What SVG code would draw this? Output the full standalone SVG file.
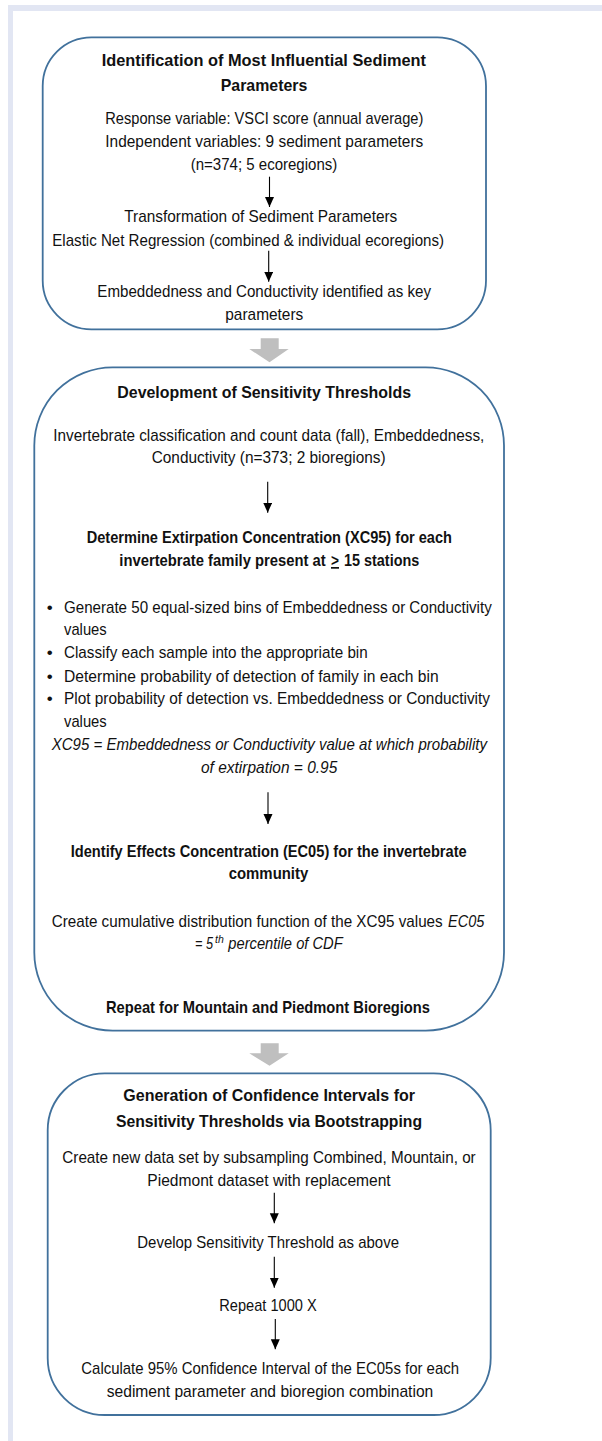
<svg xmlns="http://www.w3.org/2000/svg" width="602" height="1441" viewBox="0 0 602 1441">
<style>
.box{fill:#ffffff;stroke:#41719c;stroke-width:1.8}
.frame{fill:#e2e6f3}
text{font-family:"Liberation Sans",Arial,sans-serif;font-size:17px;fill:#111111}
.b{font-weight:bold}
.i{font-style:italic}
.sup{font-size:10.5px}
.ln{stroke:#000000;stroke-width:1.1;fill:none;marker-end:url(#ah)}
.blk{fill:#bfbfbf}
</style>
<defs>
<marker id="ah" markerUnits="userSpaceOnUse" markerWidth="10" markerHeight="10" refX="10" refY="4.5" orient="auto">
<path d="M0,0 L10,4.5 L0,9 z" fill="#000000"/>
</marker>
</defs>
<rect class="frame" x="8" y="5" width="594" height="6"/>
<rect class="frame" x="8" y="5" width="5" height="1436"/>

<g id="connectors">
<polygon class="blk" points="260.7,338.3 278.7,338.3 278.7,349 288.7,349 269.5,362.3 249.3,349 260.7,349"/>
<polygon class="blk" points="260.7,1043.3 278.7,1043.3 278.7,1053.3 288.7,1053.3 269.5,1065.7 249.3,1053.3 260.7,1053.3"/>
</g>

<g id="node-identification">
<rect class="box" x="42.7" y="37.3" width="443.3" height="292" rx="48.7" ry="48.7"/>
<text class="b" x="101.7" y="65.7" textLength="324.3" lengthAdjust="spacingAndGlyphs">Identification of Most Influential Sediment</text>
<text class="b" x="220.7" y="90.7" textLength="86.6" lengthAdjust="spacingAndGlyphs">Parameters</text>
<text x="105.3" y="124" textLength="318" lengthAdjust="spacingAndGlyphs">Response variable: VSCI score (annual average)</text>
<text x="105.3" y="147.3" textLength="318" lengthAdjust="spacingAndGlyphs">Independent variables: 9 sediment parameters</text>
<text x="190.7" y="170" textLength="146.6" lengthAdjust="spacingAndGlyphs">(n=374; 5 ecoregions)</text>
<line class="ln" x1="269.5" y1="176.7" x2="269.5" y2="207"/>
<text x="124.3" y="222.3" textLength="273" lengthAdjust="spacingAndGlyphs">Transformation of Sediment Parameters</text>
<text x="52.3" y="245.7" textLength="391.7" lengthAdjust="spacingAndGlyphs">Elastic Net Regression (combined &amp; individual ecoregions)</text>
<line class="ln" x1="268.7" y1="250.7" x2="268.7" y2="281.7"/>
<text x="97.3" y="297.3" textLength="333.7" lengthAdjust="spacingAndGlyphs">Embeddedness and Conductivity identified as key</text>
<text x="225.3" y="320" textLength="78" lengthAdjust="spacingAndGlyphs">parameters</text>
</g>

<g id="node-development">
<rect class="box" x="34.3" y="367.3" width="469.7" height="663.4" rx="78.3" ry="78.3"/>
<text class="b" x="117.3" y="398.3" textLength="293.7" lengthAdjust="spacingAndGlyphs">Development of Sensitivity Thresholds</text>
<text x="53.3" y="441" textLength="431" lengthAdjust="spacingAndGlyphs">Invertebrate classification and count data (fall), Embeddedness,</text>
<text x="151.7" y="463.3" textLength="234" lengthAdjust="spacingAndGlyphs">Conductivity (n=373; 2 bioregions)</text>
<line class="ln" x1="267.7" y1="481.7" x2="267.7" y2="512.7"/>
<text class="b" x="86.7" y="543.3" textLength="365.3" lengthAdjust="spacingAndGlyphs">Determine Extirpation Concentration (XC95) for each</text>
<text class="b" x="119.3" y="566" textLength="206.4" lengthAdjust="spacingAndGlyphs">invertebrate family present at</text>
<text class="b" x="331" y="566" textLength="8" lengthAdjust="spacingAndGlyphs" text-decoration="underline">&gt;</text>
<text class="b" x="344" y="566" textLength="75.3" lengthAdjust="spacingAndGlyphs">15 stations</text>
<text x="49.7" y="612.7" text-anchor="middle">•</text>
<text x="64" y="612.7" textLength="427.7" lengthAdjust="spacingAndGlyphs">Generate 50 equal-sized bins of Embeddedness or Conductivity</text>
<text x="64" y="635" textLength="42.7" lengthAdjust="spacingAndGlyphs">values</text>
<text x="49.7" y="658.3" text-anchor="middle">•</text>
<text x="64" y="658.3" textLength="303.7" lengthAdjust="spacingAndGlyphs">Classify each sample into the appropriate bin</text>
<text x="49.7" y="681.7" text-anchor="middle">•</text>
<text x="64" y="681.7" textLength="374.7" lengthAdjust="spacingAndGlyphs">Determine probability of detection of family in each bin</text>
<text x="49.7" y="704.3" text-anchor="middle">•</text>
<text x="64" y="704.3" textLength="426" lengthAdjust="spacingAndGlyphs">Plot probability of detection vs. Embeddedness or Conductivity</text>
<text x="64" y="727.3" textLength="42.7" lengthAdjust="spacingAndGlyphs">values</text>
<text class="i" x="51.7" y="750" textLength="435.3" lengthAdjust="spacingAndGlyphs">XC95 = Embeddedness or Conductivity value at which probability</text>
<text class="i" x="201" y="772.7" textLength="136.3" lengthAdjust="spacingAndGlyphs">of extirpation = 0.95</text>
<line class="ln" x1="268" y1="792.3" x2="268" y2="824"/>
<text class="b" x="70.7" y="856.7" textLength="396" lengthAdjust="spacingAndGlyphs">Identify Effects Concentration (EC05) for the invertebrate</text>
<text class="b" x="228.7" y="879.3" textLength="79.6" lengthAdjust="spacingAndGlyphs">community</text>
<text x="51.7" y="926.7" textLength="391" lengthAdjust="spacingAndGlyphs">Create cumulative distribution function of the XC95 values</text>
<text class="i" x="448" y="926.7" textLength="36.3" lengthAdjust="spacingAndGlyphs">EC05</text>
<text class="i" x="195" y="949.3" textLength="18" lengthAdjust="spacingAndGlyphs">= 5</text>
<text class="i sup" x="215" y="942.5">th</text>
<text class="i" x="228.3" y="949.3" textLength="114.4" lengthAdjust="spacingAndGlyphs">percentile of CDF</text>
<text class="b" x="106" y="1012.7" textLength="324" lengthAdjust="spacingAndGlyphs">Repeat for Mountain and Piedmont Bioregions</text>
</g>

<g id="node-confidence">
<rect class="box" x="47.7" y="1073.3" width="443" height="341.7" rx="57" ry="57"/>
<text class="b" x="123.3" y="1100.7" textLength="291.7" lengthAdjust="spacingAndGlyphs">Generation of Confidence Intervals for</text>
<text class="b" x="116" y="1126.7" textLength="306" lengthAdjust="spacingAndGlyphs">Sensitivity Thresholds via Bootstrapping</text>
<text x="62.3" y="1163.3" textLength="413.4" lengthAdjust="spacingAndGlyphs">Create new data set by subsampling Combined, Mountain, or</text>
<text x="147.3" y="1186" textLength="243.4" lengthAdjust="spacingAndGlyphs">Piedmont dataset with replacement</text>
<line class="ln" x1="274.3" y1="1192.7" x2="274.3" y2="1223.3"/>
<text x="137.3" y="1248.3" textLength="261.7" lengthAdjust="spacingAndGlyphs">Develop Sensitivity Threshold as above</text>
<line class="ln" x1="274.3" y1="1256.7" x2="274.3" y2="1287.7"/>
<text x="219.3" y="1310.7" textLength="97.4" lengthAdjust="spacingAndGlyphs">Repeat 1000 X</text>
<line class="ln" x1="275.3" y1="1319" x2="275.3" y2="1349.3"/>
<text x="81.3" y="1374.3" textLength="377.7" lengthAdjust="spacingAndGlyphs">Calculate 95% Confidence Interval of the EC05s for each</text>
<text x="106.7" y="1397.3" textLength="326.6" lengthAdjust="spacingAndGlyphs">sediment parameter and bioregion combination</text>
</g>
</svg>
